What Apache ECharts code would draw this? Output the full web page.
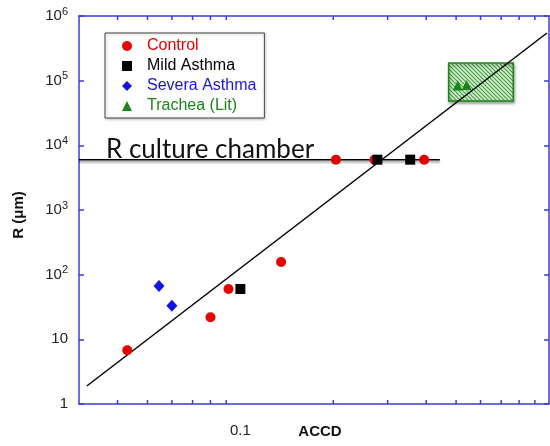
<!DOCTYPE html>
<html>
<head>
<meta charset="utf-8">
<script src="https://cdn.jsdelivr.net/npm/echarts@6/dist/echarts.min.js"></script>
<style>html,body{margin:0;padding:0;background:#fff}#c{width:550px;height:446px}</style>
</head>
<body>
<div id="c"></div>
<script>
// ---- data ----
const controlX = [0.043, 0.080, 0.0915, 0.1355, 0.204, 0.272, 0.394];
const controlY = [6.8, 22, 60, 157, 6000, 6000, 6000];
const mildX = [0.1, 0.278, 0.355];
const mildY = [60, 6000, 6000];
const severeX = [0.0545, 0.060];
const severeY = [67, 33];
const tracheaX = [0.506, 0.541];
const tracheaY = [84000, 86000];
const fitX = [0.0318, 0.985];
const fitY = [1.9, 546000];
const chamberX = [0.03, 0.443];
const chamberY = [6000, 6000];
const tracheaBoxX = [0.473, 0.766];
const tracheaBoxY = [48400, 187000];
const xMinorTicks = [0.04, 0.05, 0.06, 0.07, 0.08, 0.09, 0.2, 0.3, 0.4, 0.5, 0.6, 0.7, 0.8, 0.9];
const xTickLabels = ['0.1'];
const legendNames = ['Control', 'Mild Asthma', 'Severa Asthma', 'Trachea (Lit)'];
const chamberLabel = 'R culture chamber';

const zip = (xs, ys) => xs.map((x, i) => [x, ys[i]]);
const AXIS = '#3b3bd6';
const RED = '#e60000', BLUE = '#1414e0', GREEN = '#1c841c', BLACK = '#000';
const FONT = '"Liberation Sans", Arial, sans-serif';

// hatch pattern
const pc = document.createElement('canvas');
pc.width = 4; pc.height = 4;
const g = pc.getContext('2d');
g.fillStyle = '#d6eed0'; g.fillRect(0, 0, 4, 4);
g.strokeStyle = '#3f9e3f'; g.lineWidth = 1.1;
g.beginPath();
g.moveTo(-1, -1); g.lineTo(5, 5);
g.moveTo(-1, 3); g.lineTo(1, 5);
g.moveTo(3, -1); g.lineTo(5, 1);
g.stroke();

const chart = echarts.init(document.getElementById('c'));
const supMap = v => {
  const e = Math.round(Math.log10(v));
  if (e === 0) return '1';
  if (e === 1) return '10';
  return '10{sup|' + e + '}';
};

chart.setOption({
  animation: false,
  grid: { left: 79, top: 16, right: 1, bottom: 42, containLabel: false, outerBoundsMode: 'none' },
  xAxis: [{
    type: 'log', min: 0.03, max: 1, position: 'bottom',
    axisLine: { show: true, lineStyle: { color: AXIS, width: 1.5 } },
    axisTick: { show: false }, splitLine: { show: false }, minorTick: { show: false },
    axisLabel: {
      margin: 19, color: '#222', fontSize: 15, fontFamily: FONT,
      formatter: v => xTickLabels.find(t => Math.abs(parseFloat(t) - v) < 1e-9) || ''
    },
    name: 'ACCD', nameLocation: 'middle', nameGap: 20, nameMoveOverlap: false,
    nameTextStyle: { fontWeight: 'bold', fontSize: 15, fontFamily: FONT, color: '#111', padding: [0, 0, 0, 12] }
  }, {
    type: 'log', min: 0.03, max: 1, position: 'top',
    axisLine: { show: true, lineStyle: { color: AXIS, width: 1.5 } },
    axisTick: { show: false }, axisLabel: { show: false }, splitLine: { show: false }
  }],
  yAxis: [{
    type: 'log', min: 1, max: 1e6, position: 'left',
    axisLine: { show: true, lineStyle: { color: AXIS, width: 1.5 } },
    axisTick: { show: true, inside: true, length: 5, lineStyle: { color: AXIS, width: 1.5 } },
    splitLine: { show: false },
    axisLabel: {
      margin: 11, color: '#222', fontSize: 15, fontFamily: FONT, formatter: supMap,
      rich: { sup: { fontSize: 11, fontFamily: FONT, color: '#222', padding: [0, 0, 9, 0] } }
    },
    name: 'R (μm)', nameLocation: 'middle', nameGap: 53, nameMoveOverlap: false,
    nameTextStyle: { fontWeight: 'bold', fontSize: 15, fontFamily: FONT, color: '#111', padding: [0, 10, 0, 0] }
  }, {
    type: 'log', min: 1, max: 1e6, position: 'right',
    axisLine: { show: true, lineStyle: { color: AXIS, width: 1.5 } },
    axisTick: { show: true, inside: true, length: 5, lineStyle: { color: AXIS, width: 1.5 } },
    axisLabel: { show: false }, splitLine: { show: false }
  }],
  legend: {
    orient: 'vertical', left: 105, top: 33,
    data: [
      { name: legendNames[0], icon: 'circle', textStyle: { color: RED } },
      { name: legendNames[1], icon: 'rect', textStyle: { color: BLACK } },
      { name: legendNames[2], icon: 'diamond', textStyle: { color: BLUE } },
      { name: legendNames[3], icon: 'triangle', textStyle: { color: GREEN } }
    ],
    itemWidth: 10, itemHeight: 10, itemGap: 4,
    padding: [5, 8, 4, 17],
    borderColor: '#444', borderWidth: 1,
    backgroundColor: '#fff',
    shadowColor: 'rgba(0,0,0,0.25)', shadowBlur: 3, shadowOffsetX: 1, shadowOffsetY: 1,
    textStyle: { fontSize: 16, fontFamily: FONT, lineHeight: 16, padding: [0, 0, 0, 10] },
    selectedMode: false
  },
  graphic: [{
    type: 'text', x: 106, y: 150, z: 10,
    style: { text: chamberLabel, font: '26px Lato, "Open Sans", sans-serif', fill: '#111', verticalAlign: 'middle' }
  }],
  series: [
    {
      name: 'box', type: 'custom', z: 1, xAxisIndex: 0, yAxisIndex: 0,
      data: [[tracheaBoxX[0], tracheaBoxY[0], tracheaBoxX[1], tracheaBoxY[1]]],
      renderItem: (params, api) => {
        const a = api.coord([api.value(0), api.value(1)]);
        const b = api.coord([api.value(2), api.value(3)]);
        return {
          type: 'rect',
          shape: { x: a[0], y: b[1], width: b[0] - a[0], height: a[1] - b[1] },
          style: {
            fill: { image: pc, repeat: 'repeat' }, stroke: GREEN, lineWidth: 1.5,
            shadowColor: 'rgba(0,0,0,0.35)', shadowBlur: 3, shadowOffsetX: 1, shadowOffsetY: 2
          }
        };
      }
    },
    {
      name: 'ticks', type: 'custom', z: 5, clip: false,
      data: xMinorTicks.map(v => [v, 1]),
      renderItem: (params, api) => {
        const v = api.value(0);
        const b = api.coord([v, 1]);
        const t = api.coord([v, 1e6]);
        const st = { stroke: AXIS, lineWidth: 1.5 };
        return {
          type: 'group', children: [
            { type: 'line', shape: { x1: b[0], y1: b[1], x2: b[0], y2: b[1] - 4 }, style: st },
            { type: 'line', shape: { x1: t[0], y1: t[1], x2: t[0], y2: t[1] + 4 }, style: st }
          ]
        };
      }
    },
    {
      name: 'chamber', type: 'line', z: 2, symbol: 'none', silent: true,
      data: zip(chamberX, chamberY),
      lineStyle: { color: '#000', width: 1.5, shadowColor: 'rgba(0,0,0,0.45)', shadowBlur: 2, shadowOffsetY: 2 }
    },
    {
      name: 'fit', type: 'line', z: 3, symbol: 'none', silent: true,
      data: zip(fitX, fitY),
      lineStyle: { color: '#000', width: 1.5 }
    },
    {
      name: legendNames[0], type: 'scatter', z: 4, symbol: 'circle', symbolSize: 10,
      itemStyle: { color: RED, opacity: 1 }, data: zip(controlX, controlY)
    },
    {
      name: legendNames[1], type: 'scatter', z: 4, symbol: 'rect', symbolSize: 10,
      itemStyle: { color: BLACK, opacity: 1 }, data: zip(mildX, mildY)
    },
    {
      name: legendNames[2], type: 'scatter', z: 4, symbol: 'diamond', symbolSize: [11, 12],
      itemStyle: { color: BLUE, opacity: 1 }, data: zip(severeX, severeY)
    },
    {
      name: legendNames[3], type: 'scatter', z: 4, symbol: 'triangle', symbolSize: 10,
      itemStyle: { color: GREEN, opacity: 1 }, data: zip(tracheaX, tracheaY)
    }
  ]
});
</script>
</body>
</html>
